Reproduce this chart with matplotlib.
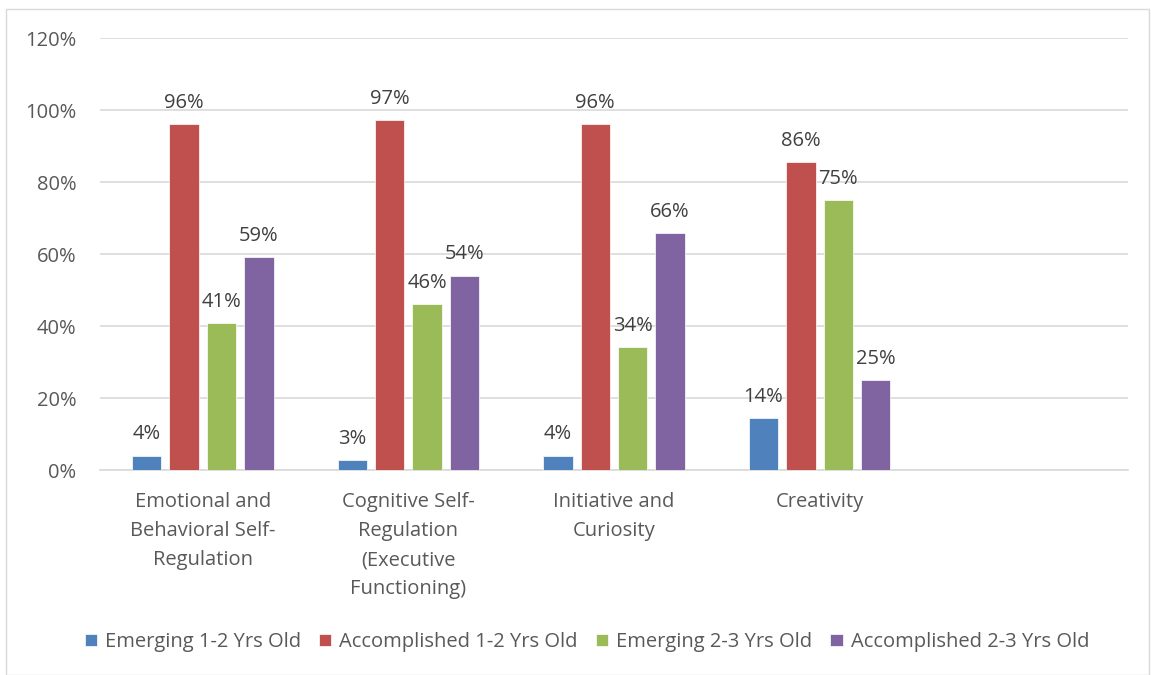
import matplotlib
matplotlib.use("Agg")
import matplotlib.pyplot as plt
import numpy as np
from matplotlib.patches import Rectangle

categories = ["Emotional and\nBehavioral Self-\nRegulation",
              "Cognitive Self-\nRegulation\n(Executive\nFunctioning)",
              "Initiative and\nCuriosity",
              "Creativity",
              ""]
series_names = ["Emerging 1-2 Yrs Old", "Accomplished 1-2 Yrs Old",
                "Emerging 2-3 Yrs Old", "Accomplished 2-3 Yrs Old"]
emerging_12 = [0.04, 0.027, 0.04, 0.144]
accomplished_12 = [0.96, 0.973, 0.96, 0.855]
emerging_23 = [0.408, 0.46, 0.342, 0.75]
accomplished_23 = [0.592, 0.54, 0.658, 0.25]
labels = [["4%", "3%", "4%", "14%"],
          ["96%", "97%", "96%", "86%"],
          ["41%", "46%", "34%", "75%"],
          ["59%", "54%", "66%", "25%"]]
colors = ["#4f81bd", "#c0504d", "#9bbb59", "#8064a2"]
yticks = [0, 0.2, 0.4, 0.6, 0.8, 1.0, 1.2]
ytick_labels = ["0%", "20%", "40%", "60%", "80%", "100%", "120%"]

plt.rcParams['font.family'] = ['Open Sans', 'DejaVu Sans']
text_color = "#595959"
fs = 14.5

fig = plt.figure(figsize=(11.51, 6.75), dpi=100)
ax = fig.add_axes([100/1151, 1-470/675, 1028/1151, 432/675])

series = [emerging_12, accomplished_12, emerging_23, accomplished_23]
x = np.arange(len(categories) - 1)
pitch = 0.182
bw = 0.143
for i, (vals, c, name) in enumerate(zip(series, colors, series_names)):
    pos = x + (i - 1.5) * pitch
    ax.bar(pos, vals, width=bw, color=c, label=name, zorder=3,
           edgecolor="white", linewidth=0.5)
    for p, v, lab in zip(pos, vals, labels[i]):
        ax.annotate(lab, (p, v), xytext=(0, 8), textcoords="offset points",
                    ha="center", va="bottom", fontsize=fs, color="#404040")

ax.set_xlim(-0.5, len(categories) - 0.5)
ax.set_ylim(0, 1.2)
ax.set_yticks(yticks)
ax.set_yticklabels(ytick_labels, fontsize=fs, color=text_color)
ax.set_xticks(np.arange(len(categories)))
ax.set_xticklabels(categories, fontsize=fs, color=text_color, linespacing=1.6, va="top")
ax.tick_params(axis="both", length=0)
ax.tick_params(axis="x", pad=16)
ax.tick_params(axis="y", pad=17)
ax.grid(axis="y", color="#d9d9d9", linewidth=1.2, zorder=0)
for s in ["top", "right", "left"]:
    ax.spines[s].set_visible(False)
ax.spines["bottom"].set_color("#d9d9d9")
ax.spines["bottom"].set_linewidth(1.2)

leg = fig.legend(loc="center", bbox_to_anchor=(587/1151, 1-642/675), ncol=4,
                 frameon=False, fontsize=fs, handlelength=0.6, handleheight=0.6,
                 handletextpad=0.4, columnspacing=0.9)
for t in leg.get_texts():
    t.set_color(text_color)

fig.patches.append(Rectangle((6/1151, 0), 1-8/1151, 1-9/675, transform=fig.transFigure,
                             fill=False, edgecolor="#d9d9d9", linewidth=1))

fig.savefig("out.png", dpi=100, facecolor="white")
